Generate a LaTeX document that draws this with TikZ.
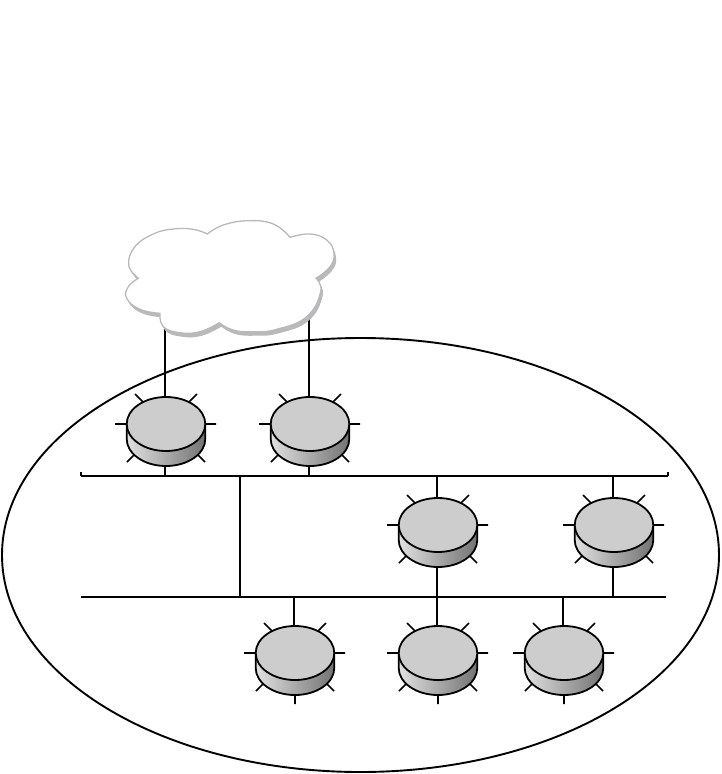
\documentclass[tikz,border=0pt]{standalone}
\tikzset{
  x=1pt,y=1pt,
  wire/.style={line width=1.9pt,black},
  rim/.style={line width=1.8pt,black},
  spoke/.style={line width=1.7pt,black},
}
\definecolor{cloudgrey}{HTML}{B9B9BC}
\definecolor{topgrey}{HTML}{CDCDCD}
% #1 name, #2 x, #3 y (negative, px from the top), #4 extra path for bottom spoke
\newcommand{\routerbox}[4]{%
  \begin{scope}[shift={(#2,#3)}]
    \draw[spoke] (-51,0) -- (-39,0) (39,0) -- (50,0)
      (-31,30) -- (-23,22) (31,30) -- (23,22)
      (-39,-38) -- (-32,-31) (39,-38) -- (32,-31) #4;
    \shade[left color=white!88!black,right color=black!55!white]
      (-39.3,0) -- (-39.3,-15) arc[start angle=180,end angle=360,x radius=39.3,y radius=27]
      -- (39.3,0) arc[start angle=0,end angle=180,x radius=39.3,y radius=27] -- cycle;
    \draw[rim] (-39.3,0) -- (-39.3,-15) arc[start angle=180,end angle=360,x radius=39.3,y radius=27] -- (39.3,0);
    \draw[rim,fill=topgrey] (0,0) ellipse[x radius=39.3,y radius=27];
    \coordinate (#1top) at (-1,27);
    \coordinate (#1bot) at (-1,-41);
  \end{scope}}
\newcommand{\cloudline}{(138.3,-278.3)
  -- plot[smooth,tension=0.75] coordinates {(138.3,-278.3) (128.7,-265) (135,-246.7) (153.3,-234) (173.3,-229) (193.3,-229.3) (207.3,-234)}
  -- plot[smooth,tension=0.75] coordinates {(207.3,-234) (223.3,-225) (248.3,-220.7) (273.3,-224) (290,-237.3)}
  -- plot[smooth,tension=0.75] coordinates {(290,-237.3) (310,-234) (326.7,-240) (334,-253.3) (330,-266.7) (316,-278.3)}
  -- plot[smooth,tension=0.75] coordinates {(316,-278.3) (320.7,-291.7) (306.7,-316.7) (276.7,-329.3) (253,-331.7) (233,-330) (219.3,-322.7)}
  -- plot[smooth,tension=0.75] coordinates {(219.3,-322.7) (200,-331.7) (180,-332.7) (163.3,-326.7) (160,-313.3)}
  -- plot[smooth,tension=0.75] coordinates {(160,-313.3) (140,-309.3) (126.7,-298.3) (128.3,-286.7) (138.3,-278.3)} -- cycle}
\begin{document}
\begin{tikzpicture}
\useasboundingbox (0,0) rectangle (721,-774);
% domain
\draw[wire] (360.5,-555) ellipse[x radius=358.5,y radius=217];
% buses
\coordinate (bus1l) at (81,-476);
\coordinate (bus1r) at (668,-476);
\coordinate (bus2l) at (81,-597);
\coordinate (bus2r) at (666,-597);
\coordinate (link1) at (240,-476);
\coordinate (link2) at (240,-597);
\coordinate (cloudA) at (165,-325);
\coordinate (cloudB) at (309,-312);
\draw[wire] (bus1l) -- (bus1r);
\draw[wire] (bus1l) -- ++(0,4) (bus1r) -- ++(0,4);
\draw[wire] (bus2l) -- (bus2r);
\draw[wire] (link1) -- (link2);
% routers
\routerbox{ra}{166}{-424}{}
\routerbox{rb}{310}{-424}{}
\routerbox{rc}{438}{-525}{}
\routerbox{rd}{614}{-525}{}
\routerbox{re}{295}{-653}{(0,-42) -- (0,-51)}
\routerbox{rf}{438}{-653}{(0,-42) -- (0,-51)}
\routerbox{rg}{564}{-653}{(0,-42) -- (0,-51)}
% connectors
\draw[wire] (cloudA) -- (ratop);
\draw[wire] (cloudB) -- (rbtop);
\draw[wire] (rabot) -- (rabot |- bus1l);
\draw[wire] (rbbot) -- (rbbot |- bus1l);
\draw[wire] (rctop) -- (rctop |- bus1l);
\draw[wire] (rdtop) -- (rdtop |- bus1l);
\draw[wire] (rcbot) -- (rcbot |- bus2l);
\draw[wire] (rdbot) -- (rdbot |- bus2l);
\draw[wire] (retop) -- (retop |- bus2l);
\draw[wire] (rftop) -- (rftop |- bus2l);
\draw[wire] (rgtop) -- (rgtop |- bus2l);
% cloud
\fill[cloudgrey,shift={(2,-4)}] \cloudline;
\draw[cloudgrey,line width=1.3pt,fill=white] \cloudline;
\end{tikzpicture}
\end{document}
